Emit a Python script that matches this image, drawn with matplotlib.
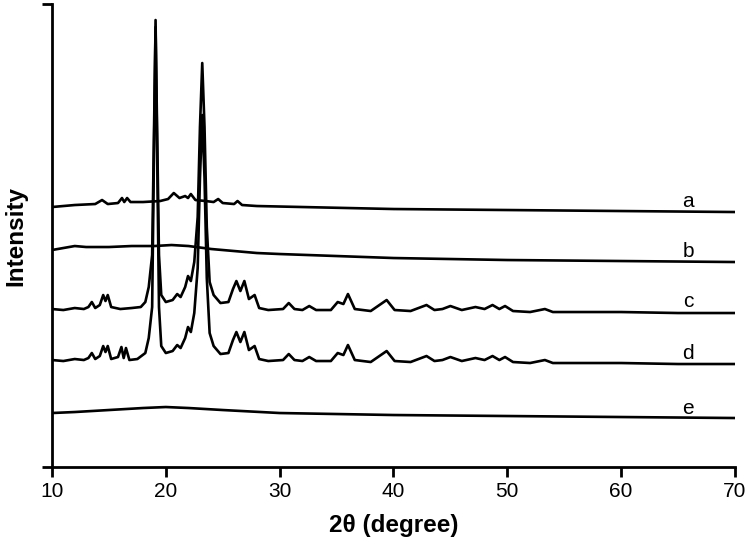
import matplotlib.pyplot as plt

plt.rcParams['font.family'] = ['Liberation Sans', 'DejaVu Sans']

# 2theta positions and intensities (arbitrary, offset-stacked) for each pattern
a_x = [10, 12, 13.8, 14.4, 14.9, 15.8, 16.15, 16.35, 16.6, 16.9, 18, 19.5, 20.2, 20.7, 21.2,
       21.7, 21.95, 22.2, 22.6, 23.5, 24.2, 24.6, 25, 26, 26.3, 26.7, 28, 32, 40, 50, 60, 70]
a_y = [260, 262, 263, 267, 263, 264, 269, 265, 269, 265, 265, 266, 268, 274, 269,
       271, 269, 273, 267, 266, 265, 268, 264, 263, 266, 262, 261, 260, 258, 257, 256, 255]

b_x = [10, 11, 12, 13, 15, 17, 19, 20.5, 22, 24, 26, 28, 30, 35, 40, 50, 60, 70]
b_y = [217, 219, 221, 220, 220, 221, 221, 222, 221, 218, 216, 214, 213, 211, 209, 207, 206, 205]

c_x = [10, 11, 12, 12.8, 13.2, 13.5, 13.8, 14.2, 14.5, 14.7, 14.9, 15.2, 16, 17, 17.8,
       18.2, 18.5, 18.8, 19.1, 19.4, 19.6, 20, 20.6, 21.0, 21.3, 21.7, 21.95, 22.2, 22.5,
       22.8, 23.0, 23.2, 23.4, 23.6, 23.85, 24.2, 24.8, 25.5, 25.9, 26.2, 26.55, 26.9, 27.3,
       27.8, 28.2, 29, 30.3, 30.8, 31.3, 32, 32.6, 33.2, 34.5, 35.1, 35.6, 36.0, 36.6, 38,
       39.4, 40.1, 41.5, 42.9, 43.6, 44.3, 45.0, 46, 47.2, 48, 48.7, 49.3, 49.8, 50.5, 52,
       53.3, 54, 60, 65, 70]
c_y = [158, 157, 159, 158, 160, 165, 159, 162, 172, 166, 172, 160, 158, 159, 160,
       165, 180, 212, 440, 212, 172, 165, 167, 173, 170, 180, 191, 186, 205,
       250, 340, 404, 340, 240, 185, 172, 164, 165, 178, 186, 176, 186, 168,
       172, 159, 157, 158, 164, 158, 157, 161, 157, 157, 165, 163, 173, 158, 156,
       167, 157, 156, 162, 157, 158, 161, 157, 160, 158, 162, 158, 161, 156, 155,
       158, 155, 155, 154, 154]

d_x = [10, 11, 12, 12.8, 13.2, 13.5, 13.8, 14.2, 14.5, 14.7, 14.9, 15.2, 15.8, 16.1, 16.3,
       16.5, 16.8, 17.5, 18.2, 18.5, 18.8, 19.1, 19.4, 19.6, 20, 20.6, 21.0, 21.3, 21.7,
       21.95, 22.2, 22.5, 22.8, 23.0, 23.2, 23.4, 23.6, 23.85, 24.2, 24.8, 25.5, 25.9, 26.2,
       26.55, 26.9, 27.3, 27.8, 28.2, 29, 30.3, 30.8, 31.3, 32, 32.6, 33.2, 34.5, 35.1, 35.6,
       36.0, 36.6, 38, 39.4, 40.1, 41.5, 42.9, 43.6, 44.3, 45.0, 46, 47.2, 48, 48.7, 49.3,
       49.8, 50.5, 52, 53.3, 54, 60, 65, 70]
d_y = [107, 106, 108, 107, 109, 114, 108, 111, 121, 115, 121, 108, 110, 120, 109,
       119, 107, 108, 114, 129, 160, 447, 160, 121, 114, 116, 122, 119, 129,
       140, 135, 154, 199, 289, 352, 289, 189, 134, 121, 113, 114, 127, 135,
       125, 135, 117, 121, 108, 106, 107, 113, 107, 106, 110, 106, 106, 114, 112,
       122, 107, 105, 116, 106, 105, 111, 106, 107, 110, 106, 109, 107, 111, 107,
       110, 105, 104, 107, 104, 104, 103, 103]

e_x = [10, 12, 15, 18, 20, 22, 25, 30, 35, 40, 50, 60, 70]
e_y = [54, 55, 57, 59, 60, 59, 57, 54, 53, 52, 51, 50, 49]

labels = ['a', 'b', 'c', 'd', 'e']
label_x = 65.9
label_y = [260, 210, 160, 108, 53]

fig = plt.figure(figsize=(7.5, 5.44), dpi=100)
ax = fig.add_axes([0.0693, 0.1415, 0.9107, 0.8511])

for xs, ys in [(a_x, a_y), (b_x, b_y), (c_x, c_y), (d_x, d_y), (e_x, e_y)]:
    ax.plot(xs, ys, color='black', lw=1.9, solid_joinstyle='round')

for lab, ly in zip(labels, label_y):
    ax.text(label_x, ly, lab, fontsize=15, ha='center', va='baseline')

ax.set_xlim(10, 70)
ax.set_ylim(0, 463)
ax.set_xticks(range(10, 71, 10))
ax.set_yticks([0, 463])
ax.set_yticklabels([])
ax.tick_params(axis='both', direction='out', length=7, width=2, labelsize=15, pad=4)
for side in ['top', 'right']:
    ax.spines[side].set_visible(False)
for side in ['left', 'bottom']:
    ax.spines[side].set_linewidth(2)

ax.set_xlabel('2θ (degree)', fontsize=17.5, fontweight='bold', labelpad=9)
ax.set_ylabel('Intensity', fontsize=17.5, fontweight='bold', labelpad=7)

fig.savefig('out.png', dpi=100)
